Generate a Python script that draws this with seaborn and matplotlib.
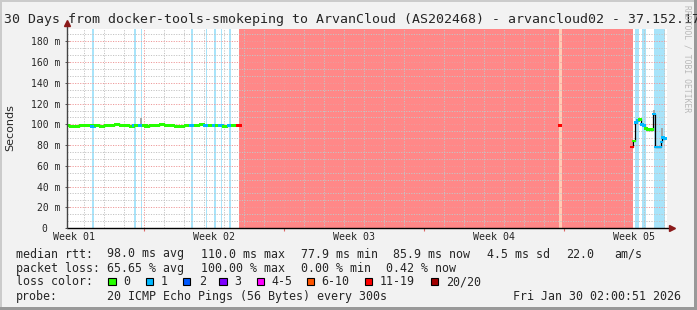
import matplotlib
matplotlib.use("Agg")
import matplotlib.pyplot as plt
from matplotlib.patches import Rectangle
from matplotlib.path import Path
from matplotlib.markers import MarkerStyle
import pandas as pd
import seaborn as sns

# ---------------- data ----------------
title = "30 Days from docker-tools-smokeping to ArvanCloud (AS202468) - arvancloud02 - 37.152.17"
week_labels = ["Week 01", "Week 02", "Week 03", "Week 04", "Week 05"]
week_centers = [0.365, 7.365, 14.365, 21.365, 28.365]
week_bounds = [3.865, 10.865, 17.865, 24.865]
day_bounds = [0.865 + k for k in range(30)]
ytick_values = [0, 20, 40, 60, 80, 100, 120, 140, 160, 180]
ytick_labels = ["0  ", "20 m", "40 m", "60 m", "80 m", "100 m", "120 m", "140 m", "160 m", "180 m"]

# median rtt, segment A (days since left edge)
days_a = [0.00, 0.25, 0.50, 0.75, 1.00, 1.25, 1.30, 1.50, 1.75, 2.00, 2.25, 2.50, 2.75, 3.00,
          3.25, 3.40, 3.50, 3.72, 3.90, 4.00, 4.25, 4.50, 4.75, 5.00, 5.25, 5.50, 5.75, 6.00,
          6.24, 6.50, 6.75, 6.97, 7.20, 7.40, 7.55, 7.72, 7.90, 8.15, 8.35, 8.60]
ms_a = [99, 98, 98, 99, 99, 99, 98, 99, 98, 99, 99, 100, 99, 99, 98, 99, 99, 99, 99, 98,
        99, 99, 100, 99, 99, 98, 98, 99, 99, 99, 100, 99, 99, 99, 99, 99, 98, 99, 99, 99]
loss_a = ["0", "0", "0", "0", "0", "0", "1", "0", "0", "0", "0", "0", "0", "0", "0", "1",
          "0", "1", "0", "0", "0", "0", "0", "0", "0", "0", "0", "0", "1", "0", "0", "1",
          "0", "1", "0", "1", "0", "1", "0", "11-19"]
# segment B
days_b = [24.65]
ms_b = [99]
loss_b = ["11-19"]
# segment C
days_c = [28.25, 28.35, 28.45, 28.55, 28.65, 28.75, 28.85, 28.95, 29.05, 29.15, 29.25,
          29.35, 29.45, 29.55, 29.65, 29.72, 29.80, 29.90]
ms_c = [78, 84, 102, 104, 105, 100, 99, 96, 95, 95, 95, 110, 78, 78, 78, 83, 87, 86]
loss_c = ["11-19", "0", "1", "1", "0", "1", "1", "0", "0", "0", "0", "1", "1", "1", "1",
          "1", "1", "1"]

# smoke (ping spread)
smoke_days = [3.70, 29.37, 29.77]
smoke_lo = [99, 108, 87]
smoke_hi = [106, 114, 96]

# loss background bands
band_start = [1.25, 3.35, 3.68, 6.20, 6.93, 7.35, 7.68, 8.10, 8.60, 24.60, 24.75,
              28.40, 28.75, 29.35]
band_end = [1.35, 3.45, 3.75, 6.28, 7.00, 7.45, 7.75, 8.20, 24.60, 24.75, 28.30,
            28.60, 28.94, 29.90]
band_loss = ["1", "1", "1", "1", "1", "1", "1", "1", "20/20", "11-19", "20/20",
             "1", "1", "1"]

loss_names = ["0", "1", "2", "3", "4-5", "6-10", "11-19", "20/20"]
loss_colors = ["#26ff00", "#00b8ff", "#0059ff", "#7e00ff", "#ff00ff", "#ff5500",
               "#ff0000", "#a10000"]
shade_colors = {"1": "#a8e4fa", "11-19": "#ffcbb5", "20/20": "#ff8888"}

stats_rows = [
    ["median rtt:", "98.0 ms avg", "110.0 ms max", "77.9 ms min", "85.9 ms now",
     "4.5 ms sd", "22.0", "am/s"],
    ["packet loss:", "65.65 % avg", "100.00 % max", "0.00 % min", "0.42 % now"],
]
probe_text = "20 ICMP Echo Pings (56 Bytes) every 300s"
date_text = "Fri Jan 30 02:00:51 2026"

# ---------------- style ----------------
sns.set_style("white")
plt.rcParams["font.family"] = ["DejaVu Sans Mono", "DejaVu Sans"]

W, H = 697, 310
fig = plt.figure(figsize=(W / 100, H / 100), dpi=100, facecolor="#f2f2f2")


def fx(px):
    return px / W


def fy(py):
    return 1 - py / H


ax = fig.add_axes([fx(67), fy(228), 600 / W, 199 / H])
ax.set_facecolor("white")
ax.set_xlim(0, 30)
ax.set_ylim(0, 199 / 1.0367)
for sp in ax.spines.values():
    sp.set_visible(False)

# loss shading
for s, e, c in zip(band_start, band_end, band_loss):
    ax.axvspan(s, e, color=shade_colors[c], lw=0, zorder=0.5)

# grid
minor_y = [k * 20 / 3 for k in range(1, 29) if k % 3 != 0]
for yv in minor_y:
    ax.axhline(yv, color="#c4c4c4", lw=0.7, ls=(0, (1.2, 1.4)), zorder=1)
for yv in ytick_values[1:]:
    ax.axhline(yv, color="#ee9a9a", lw=0.7, ls=(0, (1.2, 1.4)), zorder=1.1)
for xv in day_bounds:
    if xv not in week_bounds:
        ax.axvline(xv, color="#c4c4c4", lw=0.7, ls=(0, (1.2, 1.4)), zorder=1)
for xv in week_bounds:
    ax.axvline(xv, color="#ee9a9a", lw=0.7, ls=(0, (1.2, 1.4)), zorder=1.1)

# smoke
ax.vlines(smoke_days, smoke_lo, smoke_hi, color="#a0a0a0", lw=1.3, zorder=2)

# median line
df = pd.DataFrame({
    "day": days_a + days_b + days_c,
    "ms": ms_a + ms_b + ms_c,
    "loss": loss_a + loss_b + loss_c,
    "seg": ["a"] * len(days_a) + ["b"] * len(days_b) + ["c"] * len(days_c),
})
sns.lineplot(data=df, x="day", y="ms", units="seg", estimator=None, color="black",
             lw=0.9, drawstyle="steps-mid", ax=ax, zorder=3, legend=False)

pal = dict(zip(loss_names, loss_colors))
codes = [Path.MOVETO, Path.LINETO, Path.LINETO, Path.LINETO, Path.CLOSEPOLY]
dash_wide = MarkerStyle(Path([(-1, -0.5), (1, -0.5), (1, 0.5), (-1, 0.5), (-1, -0.5)], codes))
dash_short = MarkerStyle(Path([(-1, -0.8), (1, -0.8), (1, 0.8), (-1, 0.8), (-1, -0.8)], codes))
sns.scatterplot(data=df[df.seg == "a"], x="day", y="ms", hue="loss", palette=pal,
                marker=dash_wide, s=18, linewidth=0, ax=ax, zorder=4, legend=False)
sns.scatterplot(data=df[df.seg != "a"], x="day", y="ms", hue="loss", palette=pal,
                marker=dash_short, s=6, linewidth=0, ax=ax, zorder=4, legend=False)

# ticks
ax.set_yticks(ytick_values, ytick_labels)
ax.tick_params(axis="y", length=3, width=0.7, direction="inout", color="#555555",
               labelsize=7, pad=3.5, left=True)
ax.set_xticks(week_centers, week_labels)
ax.tick_params(axis="x", length=0, labelsize=7.2, pad=3)
ax.set_xlabel("")
ax.set_ylabel("")
ax.grid(False)

# axes lines with arrows
ax.plot([0, 1.008], [0, 0], transform=ax.transAxes, color="black", lw=1.0,
        clip_on=False, zorder=6)
ax.plot([0, 0], [0, 1.03], transform=ax.transAxes, color="#444444", lw=1.0,
        clip_on=False, zorder=6)
ax.plot([1.008], [0], transform=ax.transAxes, marker=">", color="#8b1a1a", ms=4,
        clip_on=False, zorder=7)
ax.plot([0], [1.03], transform=ax.transAxes, marker="^", color="#8b1a1a", ms=4,
        clip_on=False, zorder=7)
ax.vlines(week_bounds, -0.016, 0, transform=ax.get_xaxis_transform(), color="#dd6666",
          lw=0.8, clip_on=False)

# texts
fig.text(fx(4), fy(19.5), title, size=9.5, va="center", ha="left")
fig.text(fx(10), fy(128), "Seconds", rotation=90, family="DejaVu Sans", size=8,
         va="center", ha="center")
fig.text(fx(687.5), fy(5), "RRDTOOL / TOBI OETIKER", rotation=270, size=5.8,
         color="#b8b8b8", va="top", ha="center")

row_x = [[16, 107, 201, 300.7, 393, 486.7, 565.7, 614.3],
         [16, 107, 201, 300.7, 386]]
row_y = [254, 268.3]
for xs, texts, yy in zip(row_x, stats_rows, row_y):
    for xx, t in zip(xs, texts):
        fig.text(fx(xx), fy(yy), t, size=8.4, va="center", ha="left")

fig.text(fx(16), fy(281.7), "loss color:", size=8.4, va="center", ha="left")
box_x = [108.3, 145.7, 182.7, 219.3, 256.7, 306.7, 365.0, 430.7]
lab_x = [123.3, 160.7, 198.7, 234.3, 271.7, 321.7, 380.0, 445.7]
for bx, lx, name, col in zip(box_x, lab_x, loss_names, loss_colors):
    fig.patches.append(Rectangle((fx(bx), fy(285.3)), 7.4 / W, 7.8 / H,
                                 transform=fig.transFigure, facecolor=col,
                                 edgecolor="black", lw=0.8))
    fig.text(fx(lx), fy(281.7), name, size=8.4, va="center", ha="left")

fig.text(fx(16), fy(296.5), "probe:", size=8.4, va="center", ha="left")
fig.text(fx(107), fy(296.5), probe_text, size=8.4, va="center", ha="left")
fig.text(fx(513), fy(296.5), date_text, size=8.4, va="center", ha="left")

# frame
fig.patches.append(Rectangle((0, fy(2)), 1, 2 / H, transform=fig.transFigure,
                             facecolor="#cbcbcb", lw=0))
fig.patches.append(Rectangle((0, 0), 2 / W, 1, transform=fig.transFigure,
                             facecolor="#cbcbcb", lw=0))
fig.patches.append(Rectangle((0, 0), 1, 3 / H, transform=fig.transFigure,
                             facecolor="#999999", lw=0))
fig.patches.append(Rectangle((fx(694), 0), 3 / W, 1, transform=fig.transFigure,
                             facecolor="#999999", lw=0))

fig.savefig("out.png", dpi=100, facecolor=fig.get_facecolor())
